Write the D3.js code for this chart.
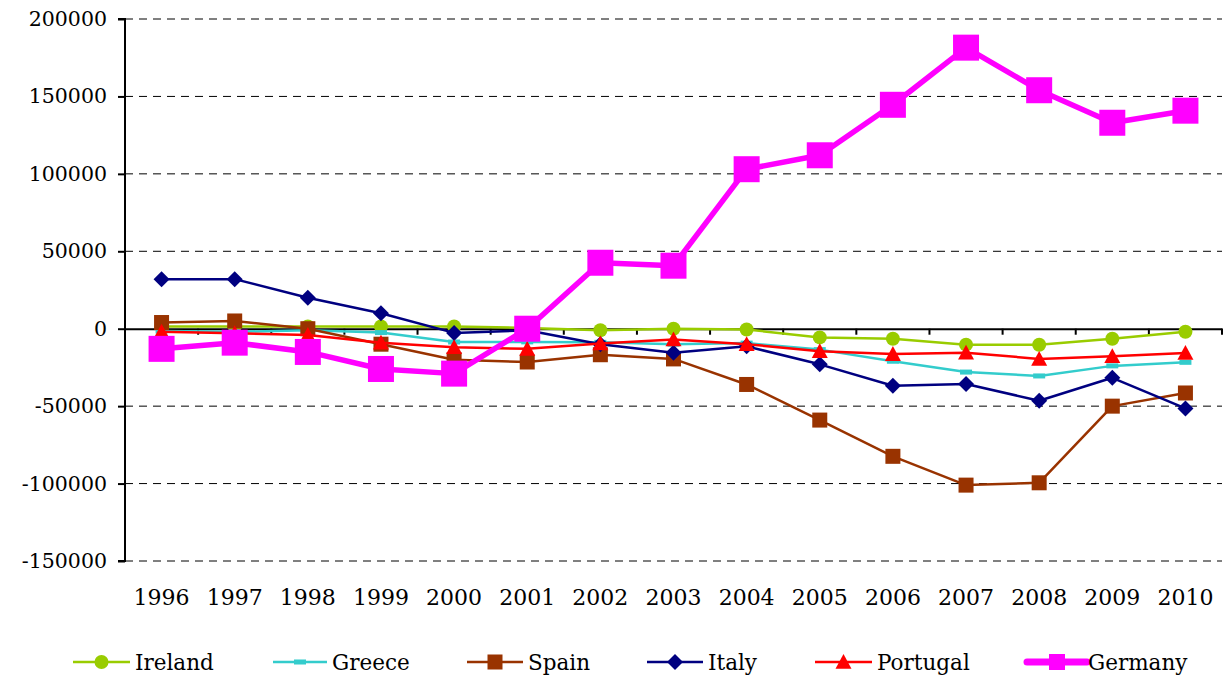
<!DOCTYPE html>
<html><head><meta charset="utf-8">
<script src="https://cdn.jsdelivr.net/npm/d3@7"></script>
<style>body{margin:0;background:#fff;} svg text{font-family:"DejaVu Serif",serif !important;}</style>
</head><body>
<svg id="c" width="1226" height="681"></svg>
<script>
const years = ["1996","1997","1998","1999","2000","2001","2002","2003","2004","2005","2006","2007","2008","2009","2010"];
const yTicks = [-150000,-100000,-50000,0,50000,100000,150000,200000];
const ireland  = [1500,1500,1500,1500,1500,500,-1000,0,-500,-5600,-6500,-10300,-10400,-6500,-2000];
const greece   = [-1500,-2000,-1000,-2500,-8600,-8500,-8800,-10000,-9300,-13500,-21000,-28000,-30500,-24000,-21700];
const spain    = [4000,5000,0,-10000,-20000,-21500,-16800,-19500,-36000,-59000,-82400,-101000,-99500,-50000,-41500];
const italy    = [32000,32000,20000,10000,-2700,-1000,-10000,-15500,-11400,-23000,-36800,-35700,-46500,-31700,-51500];
const portugal = [-2000,-3000,-4000,-9000,-12000,-13000,-9500,-7000,-10000,-14500,-16400,-15500,-19500,-17800,-15700];
const germany  = [-13000,-9000,-15000,-26000,-29000,0,42600,40700,103000,112000,144600,181500,154000,133000,140800];

const series = [
  {name:"Ireland", values:ireland, color:"#99cc00", width:2.5, marker:"circle", size:7, leg:[73,130]},
  {name:"Greece", values:greece, color:"#33cccc", width:2.5, marker:"dash", size:6, leg:[273,327]},
  {name:"Spain", values:spain, color:"#993300", width:2.5, marker:"square", size:7.5, leg:[467,523]},
  {name:"Italy", values:italy, color:"#000080", width:2.5, marker:"diamond", size:8, leg:[647,703]},
  {name:"Portugal", values:portugal, color:"#ff0000", width:2.5, marker:"triangle", size:8, leg:[815,872]},
  {name:"Germany", values:germany, color:"#ff00ff", width:5.5, marker:"square", size:13, leg:[1027,1087]}
];

const FONT = "'DejaVu Serif',serif";
const svg = d3.select("#c");
const L = 125, R = 1222, T = 19, B = 561;
const x = d3.scaleBand().domain(years).range([L,R]);
const y = d3.scaleLinear().domain([-150000,200000]).range([B,T]);

// gridlines
svg.append("g").selectAll("line").data(yTicks.filter(d=>d!==0)).join("line")
  .attr("x1",L).attr("x2",R).attr("y1",d=>y(d)).attr("y2",d=>y(d))
  .attr("stroke","#000").attr("stroke-width",1).attr("stroke-dasharray","8,6");

// y axis
const yAxis = d3.axisLeft(y).tickValues(yTicks).tickSize(7).tickSizeOuter(0)
  .tickFormat(d=> d<0 ? "-"+Math.abs(d) : String(d));
const gy = svg.append("g").attr("transform",`translate(${L},0)`).call(yAxis).attr("font-family",FONT);
gy.select(".domain").attr("stroke","#000").attr("stroke-width",2).attr("d",`M-7,${T}H0V${B}H-7`);
gy.selectAll(".tick line").attr("stroke","#000").attr("stroke-width",2);
gy.selectAll(".tick text").attr("font-size",20.5).attr("fill","#000").attr("x",-18);

// x axis at zero
const xAxis = d3.axisBottom(x).tickSize(0).tickSizeOuter(0);
const gx = svg.append("g").attr("transform",`translate(0,${y(0)})`).call(xAxis).attr("font-family",FONT);
gx.select(".domain").attr("stroke","#000").attr("stroke-width",2);
gx.selectAll(".tick text").attr("font-size",22).attr("fill","#000")
  .attr("y", 597 - y(0)).attr("dy","0.35em");
// boundary ticks
const bounds = years.map(d=>x(d)).concat([R]).slice(1);
gx.append("g").selectAll("line").data(bounds).join("line")
  .attr("x1",d=>d).attr("x2",d=>d).attr("y1",0).attr("y2",6)
  .attr("stroke","#000").attr("stroke-width",2);

function drawMarker(g, s, cx, cy, k){
  if(s.marker==="circle") g.append("circle").attr("cx",cx).attr("cy",cy).attr("r",k).attr("fill",s.color);
  else if(s.marker==="square") g.append("rect").attr("x",cx-k).attr("y",cy-k).attr("width",2*k).attr("height",2*k).attr("fill",s.color);
  else if(s.marker==="diamond") g.append("path").attr("d",`M${cx},${cy-k}L${cx+k},${cy}L${cx},${cy+k}L${cx-k},${cy}Z`).attr("fill",s.color);
  else if(s.marker==="triangle") g.append("path").attr("d",`M${cx},${cy-k}L${cx+k},${cy+k*0.85}L${cx-k},${cy+k*0.85}Z`).attr("fill",s.color);
  else if(s.marker==="dash") g.append("rect").attr("x",cx-k).attr("y",cy-2.5).attr("width",2*k).attr("height",5).attr("fill",s.color);
}

const cx = d => x(d) + x.bandwidth()/2;
const line = d3.line().x((d,i)=>cx(years[i])).y(d=>y(d));
series.forEach(s=>{
  const g = svg.append("g");
  g.append("path").datum(s.values).attr("d",line).attr("fill","none")
    .attr("stroke",s.color).attr("stroke-width",s.width).attr("stroke-linejoin","round");
  s.values.forEach((v,i)=>drawMarker(g,s,cx(years[i]),y(v),s.size));
});

// legend
const ly = 662;
series.forEach((s,i)=>{
  const g = svg.append("g");
  const [x0,x1] = s.leg;
  const isG = s.name==="Germany";
  g.append("line").attr("x1",x0).attr("x2",x1).attr("y1",ly).attr("y2",ly)
    .attr("stroke",s.color).attr("stroke-width",isG?7:s.width).attr("stroke-linecap",isG?"round":"butt");
  drawMarker(g, s, (x0+x1)/2, ly, isG?8:s.size);
  g.append("text").attr("x",x1+(isG?1:5)).attr("y",ly).attr("dy","0.35em")
    .attr("font-family",FONT).attr("font-size",21.5).attr("fill","#000").text(s.name);
});
</script>
</body></html>
